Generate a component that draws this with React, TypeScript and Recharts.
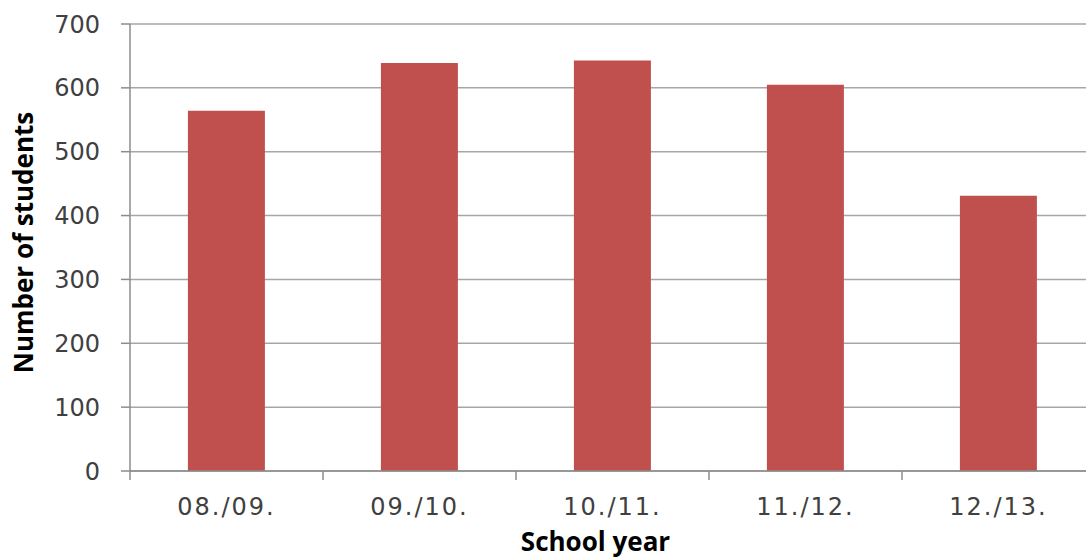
import { BarChart, Bar, XAxis, YAxis, CartesianGrid, Label } from 'recharts';

const years = ['08./09.', '09./10.', '10./11.', '11./12.', '12./13.'];
const students = [564, 639, 643, 605, 431];
const yTicks = [0, 100, 200, 300, 400, 500, 600, 700];

const data = years.map((year, i) => ({ year, students: students[i] }));

const BAR = '#C0504D';
const AXIS = '#8c8c8c';
const GRID = '#a6a6a6';
const TICK_FONT = { fontFamily: 'DejaVu Sans', fontSize: 24, fill: '#404040' };
const TITLE_FONT = { fontFamily: 'Open Sans', fontWeight: 700, fontSize: 26, fill: '#000' };

// label at the band centre, tick marks at the band edges (Excel style)
const YearTick = ({ x, y, payload, index }: any) => {
  const half = payload.offset ?? 0;
  return (
    <g>
      <line x1={x - half} x2={x - half} y1={y} y2={y + 9} stroke={AXIS} strokeWidth={1.5} />
      {index === years.length - 1 && (
        <line x1={x + half} x2={x + half} y1={y} y2={y + 9} stroke={AXIS} strokeWidth={1.5} />
      )}
      <text x={x} y={y + 27} dy="0.71em" textAnchor="middle" letterSpacing={2} {...TICK_FONT}>
        {payload.value}
      </text>
    </g>
  );
};

export default function App() {
  return (
    <div style={{ position: 'absolute', left: 0, top: 0, width: 1086, height: 560, overflow: 'hidden', background: '#fff' }}>
      <BarChart width={1100} height={560} data={data}
        margin={{ top: 24, right: 5, left: 0, bottom: 0 }} barCategoryGap="30%">
        <CartesianGrid vertical={false} stroke={GRID} strokeWidth={1.5} />
        <XAxis dataKey="year" interval={0} height={89} tickSize={0} tickMargin={0} tickLine={false}
          axisLine={{ stroke: AXIS, strokeWidth: 1.5 }} tick={<YearTick />}>
          <Label value="School year" position="insideBottom" offset={9} dx={-17} {...TITLE_FONT} />
        </XAxis>
        <YAxis domain={[0, 700]} ticks={yTicks} interval={0} width={130}
          tickSize={9} tickMargin={21} tick={TICK_FONT}
          axisLine={{ stroke: AXIS, strokeWidth: 1.5 }} tickLine={{ stroke: AXIS, strokeWidth: 1.5 }}>
          <Label value="Number of students" angle={-90} position="center" dx={-41} dy={-5} {...TITLE_FONT} />
        </YAxis>
        <Bar dataKey="students" fill={BAR} isAnimationActive={false} />
      </BarChart>
    </div>
  );
}
